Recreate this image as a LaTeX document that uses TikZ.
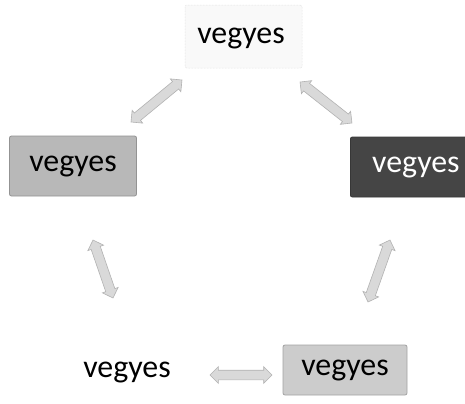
\documentclass[tikz,border=0pt]{standalone}
\usepackage{fontspec}
\setmainfont{Carlito}
\usetikzlibrary{shapes.arrows,calc}
\definecolor{boxtop}{gray}{0.975}
\definecolor{boxleft}{gray}{0.72}
\definecolor{boxdark}{gray}{0.27}
\definecolor{boxbr}{gray}{0.80}
\definecolor{arrfill}{gray}{0.85}
\definecolor{arrline}{gray}{0.70}
\tikzset{
  x=1bp, y=-1bp,
  lbl/.style={font=\fontsize{32}{34}\selectfont, inner sep=0pt, text=black},
  boxnode/.style={lbl, rounded corners=2bp, draw=#1!80!black, fill=#1, line width=0.8bp},
  darrow/.style={double arrow, fill=arrfill, draw=arrline, line width=0.6bp,
    double arrow head extend=3.5bp, inner xsep=0pt, inner ysep=4.5bp,
    minimum width=9bp},
}
\newcommand{\blockarrow}[2]{%
  \path let \p1=(#1), \p2=(#2), \n1={atan2(\y2-\y1,\x2-\x1)}, \n2={veclen(\x2-\x1,\y2-\y1)} in
    node[darrow, rotate=\n1, minimum height=\n2] at ($(#1)!0.5!(#2)$) {};}
\begin{document}
\begin{tikzpicture}
\useasboundingbox (0,0) rectangle (465,403);
\clip (0,0) rectangle (465,403);
\fill[white] (0,0) rectangle (465,403);
% boxes
\draw[fill=boxtop, draw=gray!30, rounded corners=2bp, line width=0.5bp, densely dotted] (185,5) rectangle (302,68);
\node[lbl] (top) at (241,38) {vegyes};
\node[boxnode=boxleft, minimum width=127bp, minimum height=60bp] (left) at (73,166) {vegyes};
\node[boxnode=boxdark, text=white, minimum width=125bp, minimum height=60bp, anchor=west] (right) at (350,167) {\hspace*{6bp}vegyes\hfill};
\node[lbl] (bl) at (127,372) {vegyes};
\node[boxnode=boxbr, minimum width=124bp, minimum height=50bp] (br) at (345,370) {vegyes};
% arrow ends
\coordinate (a1) at (131,122); \coordinate (a2) at (182,80);
\coordinate (b1) at (300,82);  \coordinate (b2) at (352,123);
\coordinate (c1) at (93,240);  \coordinate (c2) at (113,298);
\coordinate (d1) at (390,240); \coordinate (d2) at (368,302);
\coordinate (e1) at (210,375); \coordinate (e2) at (272,375);
\blockarrow{a1}{a2}
\blockarrow{b1}{b2}
\blockarrow{c1}{c2}
\blockarrow{d1}{d2}
\blockarrow{e1}{e2}
\end{tikzpicture}
\end{document}
